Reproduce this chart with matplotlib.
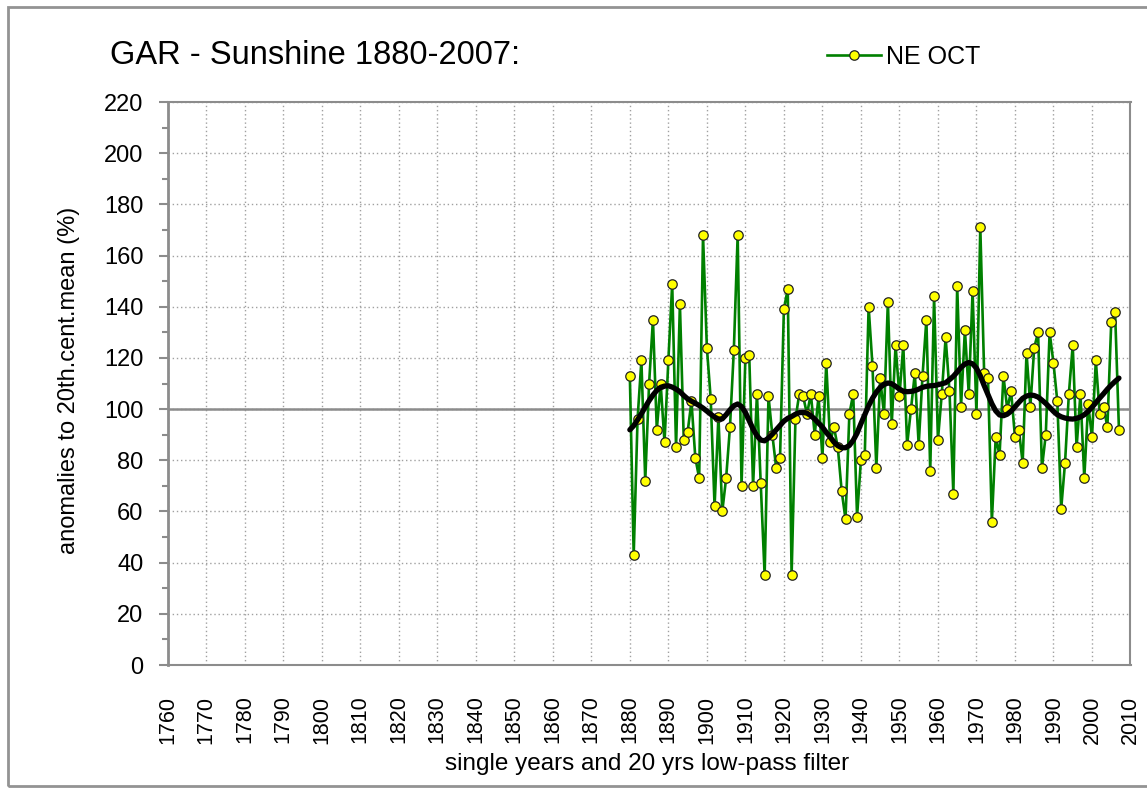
"""
GAR sunshine anomalies, NE October, 1880-2007, with 20 yr low-pass filter.
Output: out.png
"""
import numpy as np
import matplotlib.pyplot as plt
from matplotlib.patches import Rectangle

plt.rcParams['font.family'] = ['Liberation Sans', 'DejaVu Sans']

# --------- DATA ---------

years = np.arange(1880, 2008)

ne_oct = [
    113, 43, 96, 119, 72, 110, 135, 92, 110, 87,          # 1880-1889
    119, 149, 85, 141, 88, 91, 103, 81, 73, 168,          # 1890-1899
    124, 104, 62, 97, 60, 73, 93, 123, 168, 70,           # 1900-1909
    120, 121, 70, 106, 71, 35, 105, 90, 77, 81,           # 1910-1919
    139, 147, 35, 96, 106, 105, 98, 106, 90, 105,         # 1920-1929
    81, 118, 87, 93, 85, 68, 57, 98, 106, 58,             # 1930-1939
    80, 82, 140, 117, 77, 112, 98, 142, 94, 125,          # 1940-1949
    105, 125, 86, 100, 114, 86, 113, 135, 76, 144,        # 1950-1959
    88, 106, 128, 107, 67, 148, 101, 131, 106, 146,       # 1960-1969
    98, 171, 114, 112, 56, 89, 82, 113, 100, 107,         # 1970-1979
    89, 92, 79, 122, 101, 124, 130, 77, 90, 130,          # 1980-1989
    118, 103, 61, 79, 106, 125, 85, 106, 73, 102,         # 1990-1999
    89, 119, 98, 101, 93, 134, 138, 92,                   # 2000-2007
]

lowpass = [
    91.9, 93.5, 95.8, 98.2, 100.8, 103.3, 105.5, 107.3, 108.5, 109.0,
    109.1, 108.6, 107.8, 106.8, 105.3, 104.0, 103.1, 102.3, 101.4, 100.4,
    99.2, 98.0, 96.9, 96.1, 96.2, 97.8, 99.7, 101.3, 102.0, 101.0,
    98.7, 95.4, 92.2, 89.6, 87.9, 87.6, 88.7, 90.2, 91.9, 93.6,
    95.3, 96.4, 97.1, 98.0, 98.6, 98.7, 98.4, 97.4, 96.1, 94.5,
    93.0, 90.9, 89.1, 87.1, 85.7, 84.9, 84.9, 85.8, 87.8, 90.6,
    94.3, 97.8, 101.3, 104.2, 106.6, 108.5, 109.6, 110.2, 109.9, 108.9,
    107.8, 107.0, 106.8, 106.9, 107.2, 107.8, 108.5, 108.9, 109.1, 109.2,
    109.5, 109.9, 110.3, 111.5, 112.8, 114.5, 116.3, 117.6, 118.2, 117.7,
    116.0, 113.0, 109.2, 105.6, 102.1, 99.3, 97.7, 97.4, 98.0, 99.2,
    100.9, 102.6, 104.2, 105.1, 105.5, 105.3, 104.7, 103.5, 102.2, 100.7,
    99.1, 97.8, 97.0, 96.5, 96.2, 96.1, 96.4, 96.9, 97.8, 99.1,
    100.7, 102.5, 104.3, 106.0, 107.8, 109.4, 110.8, 112.1,
]

x_ticks = np.arange(1760, 2011, 10)
y_ticks = np.arange(0, 221, 20)

# --------- PLOT ---------

W, H = 1147, 795
fig = plt.figure(figsize=(W / 100, H / 100), dpi=100)

# chart area border
fig.patches.append(Rectangle((8 / W, 1 - 786 / H), 1.2, (786 - 7) / H,
                             transform=fig.transFigure, fill=False,
                             edgecolor='#939393', linewidth=2))

left, right, top, bottom = 167.7, 1130.5, 102, 665
ax = fig.add_axes([left / W, 1 - bottom / H, (right - left) / W, (bottom - top) / H])

ax.plot(years, ne_oct, color='#008000', linewidth=1.9, marker='o',
        markersize=6.8, markerfacecolor='#ffff00', markeredgecolor='#222222',
        markeredgewidth=0.9, label='NE OCT', zorder=3)
ax.plot(years, lowpass, color='black', linewidth=3.8, solid_capstyle='round', zorder=4)

ax.axhline(100, color='#8c8c8c', linewidth=1.8, zorder=1)

ax.set_xlim(1760, 2010)
ax.set_ylim(0, 220)
ax.set_xticks(x_ticks)
ax.set_xticklabels([str(t) for t in x_ticks], rotation=90, fontsize=15.5)
ax.set_yticks(y_ticks)
ax.set_yticks(np.arange(10, 220, 20), minor=True)
ax.tick_params(axis='y', which='major', labelsize=17, length=6.5, width=1.5,
               color='#8c8c8c', pad=11)
ax.tick_params(axis='y', which='minor', length=4.3, width=1.5, color='#8c8c8c')
ax.tick_params(axis='x', length=0, pad=22)

ax.grid(True, which='major', color='#a0a0a0', linestyle=(0, (1, 2)), linewidth=1)
ax.set_axisbelow(True)

for side in ['left', 'right', 'bottom', 'top']:
    ax.spines[side].set_color('#8c8c8c')
ax.spines['left'].set_linewidth(2)
ax.spines['right'].set_linewidth(1.5)
ax.spines['bottom'].set_linewidth(1.5)
ax.spines['top'].set_linewidth(1.5)
ax.spines['top'].set_linestyle((0, (1, 1)))

fig.text(69 / W, 1 - 380 / H, 'anomalies to 20th.cent.mean (%)', fontsize=17,
         rotation=90, va='center', ha='center')
fig.text(647 / W, 1 - 764 / H, 'single years and 20 yrs low-pass filter',
         fontsize=17.5, va='center', ha='center')

fig.text(110 / W, 1 - 56 / H, 'GAR - Sunshine 1880-2007:', fontsize=23.5,
         va='center', ha='left')

ax.legend(loc='center left', bbox_to_anchor=(827 / W, 1 - 57 / H),
          bbox_transform=fig.transFigure, frameon=False, fontsize=18,
          handlelength=2.15, handletextpad=0.2, borderpad=0, borderaxespad=0)

fig.savefig('out.png', dpi=100)
